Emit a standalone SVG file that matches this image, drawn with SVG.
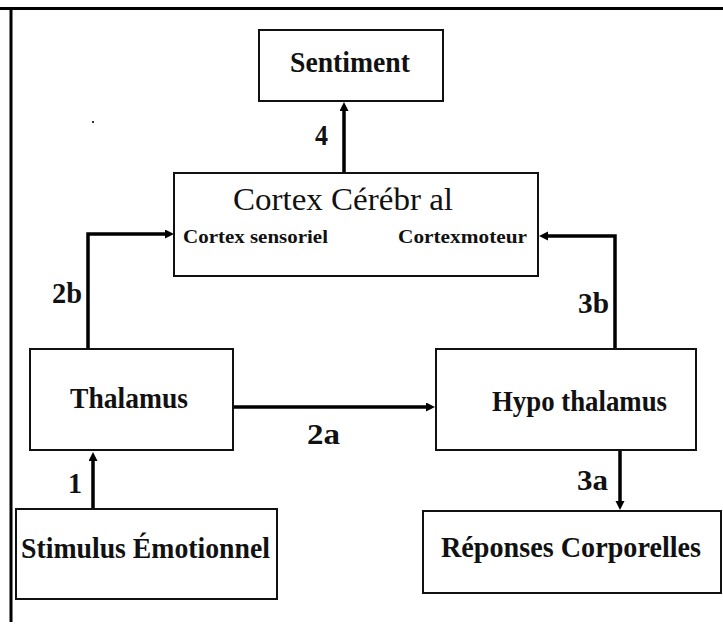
<svg xmlns="http://www.w3.org/2000/svg" width="723" height="630" viewBox="0 0 723 630">
  <defs>
    <style>
      .box { fill: #ffffff; stroke: #111111; stroke-width: 2; }
      .frame { fill: none; stroke: #000000; stroke-width: 3; }
      .conn { fill: none; stroke: #000000; stroke-width: 3.5; stroke-linejoin: miter; }
      .lbl { font-family: "Liberation Serif", "Times New Roman", serif; font-weight: bold; fill: #111111; }
      .big { font-size: 30px; }
      .small { font-size: 18px; }
      .num { font-size: 29px; }
      .title { font-family: "Liberation Serif", "Times New Roman", serif; font-size: 32px; fill: #111111; }
    </style>
    <marker id="arrow" markerUnits="userSpaceOnUse" markerWidth="10" markerHeight="10" refX="3" refY="4.5" orient="auto">
      <path d="M0,0 L9,4.5 L0,9 z" fill="#000000"/>
    </marker>
  </defs>

  <rect width="723" height="630" fill="#ffffff"/>

  <!-- outer frame: top rule and left rule -->
  <path class="frame" d="M0,8.5 H723 M11,8.5 V622"/>
  <rect x="92" y="121" width="2" height="2" fill="#333333"/>

  <!-- connectors -->
  <g id="connectors">
    <path class="conn" d="M93,509 V458" marker-end="url(#arrow)"/>
    <path class="conn" d="M233,407 H429" marker-end="url(#arrow)"/>
    <path class="conn" d="M88,349 V234 H168" marker-end="url(#arrow)"/>
    <path class="conn" d="M620,451 V504" marker-end="url(#arrow)"/>
    <path class="conn" d="M615,349 V236 H545" marker-end="url(#arrow)"/>
    <path class="conn" d="M344,173 V108" marker-end="url(#arrow)"/>
    <text class="lbl num" x="68" y="493" textLength="14" lengthAdjust="spacingAndGlyphs">1</text>
    <text class="lbl num" x="307" y="444" textLength="33" lengthAdjust="spacingAndGlyphs">2a</text>
    <text class="lbl num" x="52" y="303" textLength="30" lengthAdjust="spacingAndGlyphs">2b</text>
    <text class="lbl num" x="577" y="490" textLength="31" lengthAdjust="spacingAndGlyphs">3a</text>
    <text class="lbl num" x="578" y="313" textLength="31" lengthAdjust="spacingAndGlyphs">3b</text>
    <text class="lbl num" x="315" y="145" textLength="13" lengthAdjust="spacingAndGlyphs">4</text>
  </g>

  <g id="sentiment">
    <rect class="box" x="259" y="30" width="184" height="71"/>
    <text class="lbl big" x="290" y="72" textLength="120" lengthAdjust="spacingAndGlyphs">Sentiment</text>
  </g>

  <g id="cortex">
    <rect class="box" x="174" y="173" width="364" height="103"/>
    <text class="title" x="233" y="210" textLength="220" lengthAdjust="spacingAndGlyphs">Cortex Cérébr al</text>
    <text class="lbl small" x="183" y="243" textLength="145" lengthAdjust="spacingAndGlyphs">Cortex sensoriel</text>
    <text class="lbl small" x="398" y="243" textLength="129" lengthAdjust="spacingAndGlyphs">Cortexmoteur</text>
  </g>

  <g id="thalamus">
    <rect class="box" x="30" y="349" width="203" height="101"/>
    <text class="lbl big" x="70" y="408" textLength="118" lengthAdjust="spacingAndGlyphs">Thalamus</text>
  </g>

  <g id="hypothalamus">
    <rect class="box" x="436" y="349" width="260" height="101"/>
    <text class="lbl big" x="492" y="411" textLength="175" lengthAdjust="spacingAndGlyphs">Hypo thalamus</text>
  </g>

  <g id="stimulus">
    <rect class="box" x="16" y="509" width="261" height="90"/>
    <text class="lbl big" x="21" y="558" textLength="249" lengthAdjust="spacingAndGlyphs">Stimulus Émotionnel</text>
  </g>

  <g id="reponses">
    <rect class="box" x="423" y="511" width="298" height="82"/>
    <text class="lbl big" x="441" y="557" textLength="260" lengthAdjust="spacingAndGlyphs">Réponses Corporelles</text>
  </g>
</svg>
